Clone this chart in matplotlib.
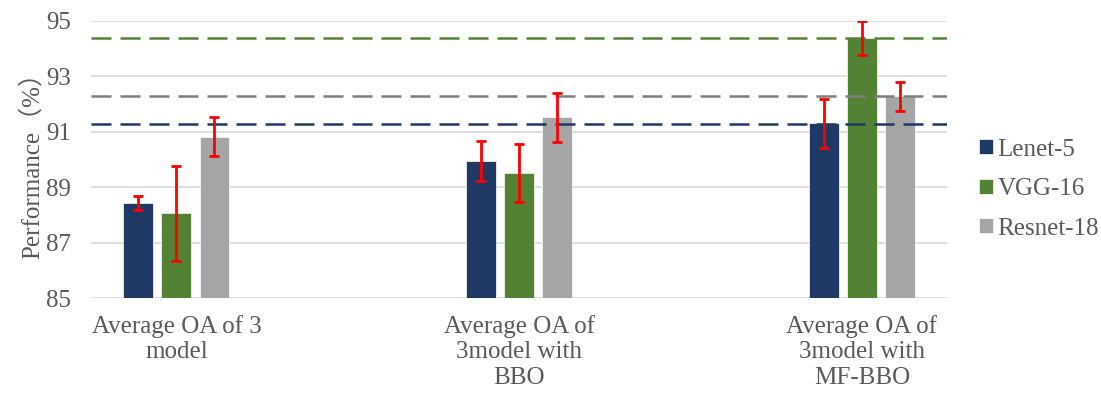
import matplotlib
matplotlib.use('Agg')
import matplotlib.pyplot as plt
import numpy as np

# data
categories = ["Average OA of 3\nmodel",
              "Average OA of\n3model with\nBBO",
              "Average OA of\n3model with\nMF-BBO"]
models = ["Lenet-5", "VGG-16", "Resnet-18"]
lenet = [88.42, 89.93, 91.30]
vgg = [88.06, 89.52, 94.39]
resnet = [90.82, 91.52, 92.27]
lenet_err = [0.25, 0.72, 0.87]
vgg_err = [1.70, 1.04, 0.61]
resnet_err = [0.70, 0.88, 0.51]
# reference (best) levels drawn as dashed lines
ref_lines = [94.38, 92.30, 91.29]

bar_colors = ['#203864', '#548235', '#a5a5a5']
line_colors = ['#548235', '#7f7f7f', '#203864']
text_color = '#595959'
serif = ['Liberation Serif', 'Noto Sans CJK SC', 'DejaVu Sans']

plt.rcParams['font.family'] = serif

fig = plt.figure(figsize=(11.01, 3.94), dpi=100)
ax = fig.add_axes([0.0824, 0.2429, 0.860 - 0.0824, 0.9475 - 0.2429])

x = np.arange(len(categories))
width = 0.087
step = 0.111
series = [lenet, vgg, resnet]
errs = [lenet_err, vgg_err, resnet_err]
for i, (vals, err) in enumerate(zip(series, errs)):
    pos = x + (i - 1) * step
    ax.bar(pos, np.array(vals) - 85, width, bottom=85, color=bar_colors[i],
           edgecolor='white', linewidth=0.5, label=models[i], zorder=3)
    ax.errorbar(pos, vals, yerr=err, fmt='none', ecolor='#ff0000',
                elinewidth=2, capsize=3.5, capthick=2, zorder=5)

for yv, c in zip(ref_lines, line_colors):
    ax.axhline(yv, color=c, lw=1.8, linestyle=(0, (8, 3.6)), zorder=4)

ax.set_ylim(85, 95)
ax.set_xlim(-0.25, 2.248)
ax.set_yticks([85, 87, 89, 91, 93, 95])
ax.yaxis.grid(True, color='#d9d9d9', lw=1.2, zorder=0)
ax.set_axisbelow(True)
for s in ax.spines.values():
    s.set_visible(False)
ax.tick_params(length=0, labelsize=18, colors=text_color)
ax.tick_params(axis='y', pad=14)
ax.set_xticks(x)
ax.set_xticklabels(categories, fontsize=18, color=text_color, linespacing=1.2)
ax.tick_params(axis='x', pad=12)
ax.set_ylabel("Performance（%）", fontsize=18, color=text_color, labelpad=2)

leg = fig.legend(loc='center left', bbox_to_anchor=(0.889, 0.52), frameon=False,
                 fontsize=18, handlelength=0.55, handleheight=0.55,
                 handletextpad=0.2, labelspacing=0.7, borderpad=0,
                 borderaxespad=0)
for t in leg.get_texts():
    t.set_color(text_color)

plt.savefig("out.png", dpi=100)
